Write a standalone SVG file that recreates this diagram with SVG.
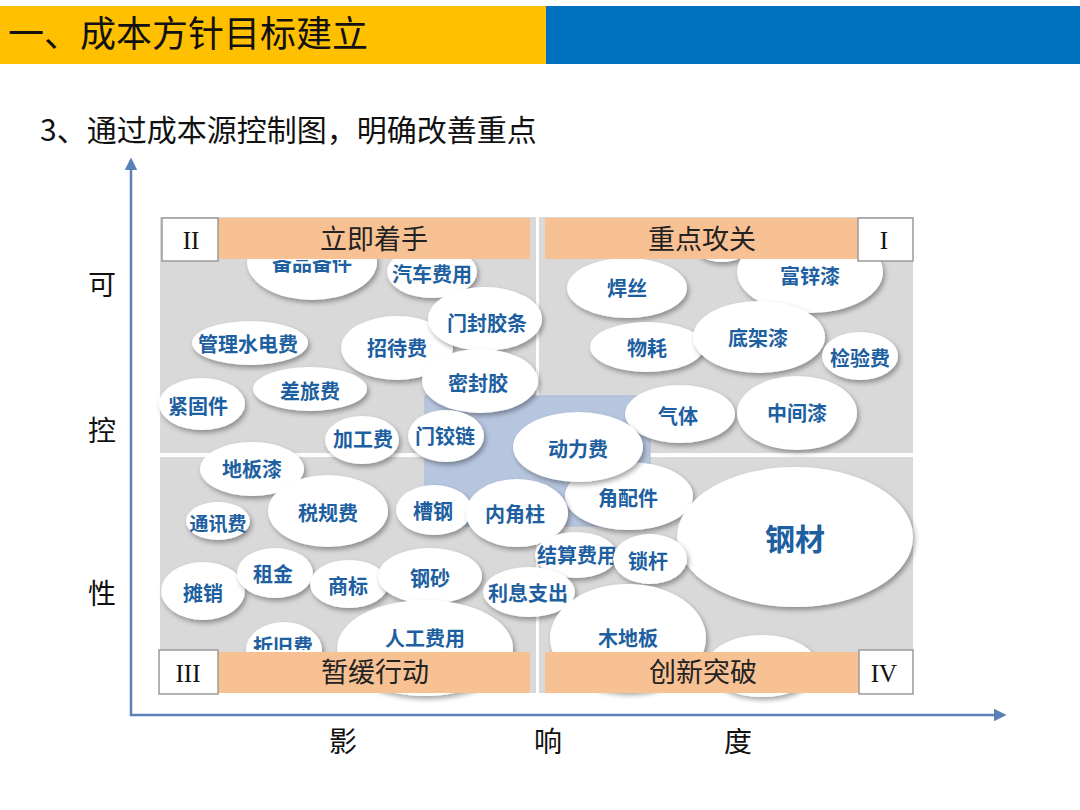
<svg xmlns="http://www.w3.org/2000/svg" width="1080" height="810" viewBox="0 0 1080 810">
<style>
.cjk{font-family:"Noto Sans CJK SC","Noto Sans",sans-serif}
.lbl{font-family:"Noto Sans CJK SC",sans-serif;font-weight:bold;font-size:20px;fill:#1d5fa0;text-anchor:middle;dominant-baseline:central}
.bub{fill:#ffffff;filter:url(#sh)}
.quad{fill:#d9d9d9}
.bar{fill:#f8c193}
.rbox{fill:#ffffff;stroke:#9a9a9a;stroke-width:1.5}
.bartxt{font-family:"Noto Sans CJK SC",sans-serif;font-size:27px;fill:#222;text-anchor:middle}
.rom{font-family:"Liberation Serif",serif;font-size:25px;fill:#111;text-anchor:middle}
.axt{font-family:"Noto Sans CJK SC",sans-serif;font-size:28px;fill:#111;text-anchor:middle}
.axis{stroke:#5b80b8;stroke-width:2.5;fill:none}
</style>
<defs>
<filter id="sh" x="-20%" y="-20%" width="140%" height="150%">
<feDropShadow dx="2" dy="3" stdDeviation="2.5" flood-color="#000" flood-opacity="0.35"/>
</filter>
<marker id="arr" viewBox="0 0 10 10" refX="8" refY="5" markerWidth="5" markerHeight="5" orient="auto-start-reverse">
<path d="M0,0 L10,5 L0,10 z" fill="#5b80b8"/>
</marker>
<clipPath id="clipTop"><rect x="150" y="260" width="400" height="200"/></clipPath>
<clipPath id="clipBot"><rect x="150" y="450" width="400" height="200"/></clipPath>
</defs>
<rect width="1080" height="810" fill="#ffffff"/>
<g id="header">
<rect x="0" y="6" width="546" height="58" fill="#ffc000"/>
<rect x="546" y="6" width="534" height="58" fill="#0070c0"/>
<text x="8" y="47" class="cjk" font-size="36" fill="#111">一、成本方针目标建立</text>
</g>
<text x="40" y="141" class="cjk" font-size="30" fill="#111">3、通过成本源控制图，明确改善重点</text>
<g id="quadrants">
<rect class="quad" x="160" y="217" width="376" height="236"/>
<rect class="quad" x="539" y="217" width="374" height="236"/>
<rect class="quad" x="160" y="457" width="376" height="236"/>
<rect class="quad" x="539" y="457" width="374" height="236"/>
<rect x="425" y="396" width="225" height="130" fill="#b7c6df" stroke="#a9b9d4" stroke-width="1"/>
</g>
<g id="connectors">
<line class="axis" x1="131" y1="716" x2="131" y2="160" marker-end="url(#arr)"/>
<line class="axis" x1="130" y1="715" x2="1004" y2="715" marker-end="url(#arr)"/>
</g>
<g id="axis-labels">
<text class="axt" x="102" y="295">可</text>
<text class="axt" x="102" y="441">控</text>
<text class="axt" x="102" y="604">性</text>
<text class="axt" x="343" y="752">影</text>
<text class="axt" x="548" y="752">响</text>
<text class="axt" x="738" y="752">度</text>
</g>
<g id="n-hidden1"><ellipse class="bub" cx="722" cy="246" rx="28" ry="16"/></g>
<g id="n-beipin"><ellipse class="bub" cx="312" cy="262" rx="65" ry="38"/><text class="lbl" x="312" y="262" clip-path="url(#clipTop)">备品备件</text></g>
<g id="n-qiche"><ellipse class="bub" cx="432" cy="272" rx="45" ry="26"/><text class="lbl" x="432" y="273">汽车费用</text></g>
<g id="n-guanli"><ellipse class="bub" cx="250" cy="343" rx="58" ry="22"/><text class="lbl" x="248" y="343">管理水电费</text></g>
<g id="n-zhaodai"><ellipse class="bub" cx="397" cy="348" rx="56" ry="32"/><text class="lbl" x="397" y="347">招待费</text></g>
<g id="n-menfeng"><ellipse class="bub" cx="485" cy="319" rx="57" ry="32"/><text class="lbl" x="487" y="322">门封胶条</text></g>
<g id="n-mifeng"><ellipse class="bub" cx="480" cy="381" rx="58" ry="32"/><text class="lbl" x="478" y="382">密封胶</text></g>
<g id="n-chalv"><ellipse class="bub" cx="310" cy="389" rx="57" ry="22"/><text class="lbl" x="310" y="390">差旅费</text></g>
<g id="n-jingu"><ellipse class="bub" cx="202" cy="404" rx="43" ry="26"/><text class="lbl" x="198" y="405">紧固件</text></g>
<g id="n-jiagong"><ellipse class="bub" cx="362" cy="440" rx="37" ry="24"/><text class="lbl" x="363" y="438">加工费</text></g>
<g id="n-menjiao"><ellipse class="bub" cx="446" cy="436" rx="38" ry="26"/><text class="lbl" x="445" y="435">门铰链</text></g>
<g id="n-hansi"><ellipse class="bub" cx="627" cy="288" rx="60" ry="30"/><text class="lbl" x="627" y="287">焊丝</text></g>
<g id="n-fuxin"><ellipse class="bub" cx="810" cy="272" rx="73" ry="41"/><text class="lbl" x="810" y="275">富锌漆</text></g>
<g id="n-wuhao"><ellipse class="bub" cx="647" cy="347" rx="57" ry="25"/><text class="lbl" x="647" y="347">物耗</text></g>
<g id="n-dijia"><ellipse class="bub" cx="759" cy="337" rx="66" ry="36"/><text class="lbl" x="758" y="337">底架漆</text></g>
<g id="n-jianyan"><ellipse class="bub" cx="860" cy="356" rx="38" ry="24"/><text class="lbl" x="860" y="357">检验费</text></g>
<g id="n-qiti"><ellipse class="bub" cx="680" cy="414" rx="55" ry="29"/><text class="lbl" x="678" y="415">气体</text></g>
<g id="n-zhongjian"><ellipse class="bub" cx="797" cy="413" rx="60" ry="37"/><text class="lbl" x="797" y="412">中间漆</text></g>
<g id="n-dibanqi"><ellipse class="bub" cx="252" cy="469" rx="52" ry="27"/><text class="lbl" x="252" y="468">地板漆</text></g>
<g id="n-shuigui"><ellipse class="bub" cx="328" cy="511" rx="60" ry="36"/><text class="lbl" x="328" y="512">税规费</text></g>
<g id="n-tongxun"><ellipse class="bub" cx="218" cy="521" rx="32" ry="19"/><text class="lbl" x="218" y="522" style="font-size:19px">通讯费</text></g>
<g id="n-caogang"><ellipse class="bub" cx="434" cy="510" rx="38" ry="25"/><text class="lbl" x="433" y="510">槽钢</text></g>
<g id="n-jiaopei"><ellipse class="bub" cx="629" cy="496" rx="64" ry="34"/><text class="lbl" x="628" y="497">角配件</text></g>
<g id="n-dongli"><ellipse class="bub" cx="578" cy="447" rx="65" ry="35"/><text class="lbl" x="578" y="448">动力费</text></g>
<g id="n-neijiao"><ellipse class="bub" cx="517" cy="513" rx="51" ry="34"/><text class="lbl" x="515" y="513">内角柱</text></g>
<g id="n-gangcai"><ellipse class="bub" cx="795" cy="537" rx="118" ry="70"/><text class="lbl" x="795" y="537" style="font-size:30px">钢材</text></g>
<g id="n-jiesuan"><ellipse class="bub" cx="576" cy="555" rx="41" ry="23"/><text class="lbl" x="577" y="554">结算费用</text></g>
<g id="n-suogan"><ellipse class="bub" cx="650" cy="559" rx="37" ry="25"/><text class="lbl" x="648" y="560">锁杆</text></g>
<g id="n-tanxiao"><ellipse class="bub" cx="203" cy="591" rx="42" ry="29"/><text class="lbl" x="203" y="592">摊销</text></g>
<g id="n-zujin"><ellipse class="bub" cx="275" cy="573" rx="38" ry="25"/><text class="lbl" x="273" y="573">租金</text></g>
<g id="n-shangbiao"><ellipse class="bub" cx="349" cy="584" rx="39" ry="24"/><text class="lbl" x="348" y="585">商标</text></g>
<g id="n-gangsha"><ellipse class="bub" cx="430" cy="576" rx="52" ry="28"/><text class="lbl" x="430" y="577">钢砂</text></g>
<g id="n-lixi"><ellipse class="bub" cx="529" cy="592" rx="46" ry="25"/><text class="lbl" x="528" y="592">利息支出</text></g>
<g id="n-rengong"><ellipse class="bub" cx="425" cy="648" rx="88" ry="48"/><text class="lbl" x="425" y="637">人工费用</text></g>
<g id="n-zhejiu"><ellipse class="bub" cx="284" cy="650" rx="38" ry="28"/><text class="lbl" x="283" y="645" clip-path="url(#clipBot)">折旧费</text></g>
<g id="n-mudiban"><ellipse class="bub" cx="628" cy="638" rx="78" ry="54"/><text class="lbl" x="628" y="637">木地板</text></g>
<g id="n-hidden2"><ellipse class="bub" cx="762" cy="666" rx="55" ry="31"/></g>
<g id="q2">
<rect class="bar" x="218" y="218" width="312" height="41"/>
<rect class="rbox" x="162" y="218" width="56" height="43"/>
<text class="rom" x="191" y="249">II</text>
<text class="bartxt" x="374" y="249">立即着手</text>
</g>
<g id="q1">
<rect class="bar" x="545" y="218" width="314" height="41"/>
<rect class="rbox" x="858" y="218" width="55" height="43"/>
<text class="rom" x="884" y="249">I</text>
<text class="bartxt" x="702" y="249">重点攻关</text>
</g>
<g id="q3">
<rect class="bar" x="218" y="652" width="312" height="41"/>
<rect class="rbox" x="159" y="650" width="59" height="44"/>
<text class="rom" x="188" y="682">III</text>
<text class="bartxt" x="375" y="682">暂缓行动</text>
</g>
<g id="q4">
<rect class="bar" x="545" y="652" width="315" height="41"/>
<rect class="rbox" x="859" y="650" width="54" height="44"/>
<text class="rom" x="884" y="682">IV</text>
<text class="bartxt" x="703" y="682">创新突破</text>
</g>
</svg>
